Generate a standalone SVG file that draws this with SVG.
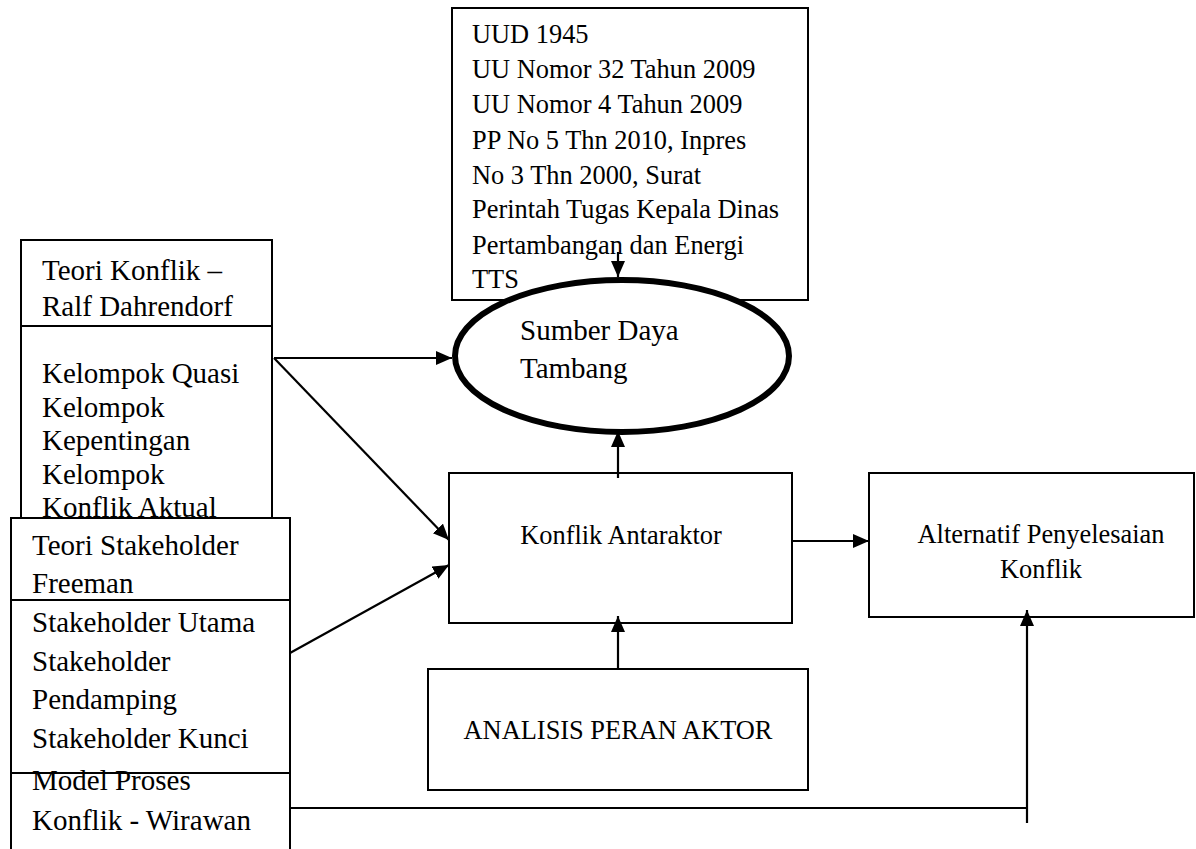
<svg xmlns="http://www.w3.org/2000/svg" width="1196" height="849" viewBox="0 0 1196 849">
<style>
text{font-family:"Liberation Serif","Times New Roman",serif;fill:#000}
.box{fill:#fff;stroke:#000;stroke-width:2}
.t26{font-size:26.4px}
.t29{font-size:29px}
.c{stroke:#000;stroke-width:2.2;fill:none}
</style>
<defs>
<marker id="ah" markerUnits="userSpaceOnUse" markerWidth="18" markerHeight="16" refX="16" refY="7" orient="auto">
<path d="M0,0 L16,7 L0,14 z" fill="#000"/>
</marker>
</defs>
<rect width="1196" height="849" fill="#fff"/>

<g id="dasar-hukum">
<rect class="box" x="452" y="8" width="356" height="292"/>
<text class="t26" x="472" y="43">UUD 1945</text>
<text class="t26" x="472" y="78">UU Nomor 32 Tahun 2009</text>
<text class="t26" x="472" y="113">UU Nomor 4 Tahun 2009</text>
<text class="t26" x="472" y="149">PP No 5 Thn 2010, Inpres</text>
<text class="t26" x="472" y="184">No 3 Thn 2000, Surat</text>
<text class="t26" x="472" y="218">Perintah Tugas Kepala Dinas</text>
<text class="t26" x="472" y="254">Pertambangan dan Energi</text>
<text class="t26" x="472" y="288">TTS</text>
</g>

<g id="sumber-daya">
<ellipse cx="622" cy="356" rx="167" ry="76" fill="#fff" stroke="#000" stroke-width="6"/>
<text class="t29" x="520" y="340">Sumber Daya</text>
<text class="t29" x="520" y="378">Tambang</text>
</g>

<g id="teori-konflik">
<rect class="box" x="21" y="240" width="251" height="290"/>
<line x1="21" y1="326" x2="272" y2="326" stroke="#000" stroke-width="2"/>
<text class="t29" x="42" y="280">Teori Konflik –</text>
<text class="t29" x="42" y="316">Ralf Dahrendorf</text>
<text class="t29" x="42" y="383">Kelompok Quasi</text>
<text class="t29" x="42" y="416.5">Kelompok</text>
<text class="t29" x="42" y="450">Kepentingan</text>
<text class="t29" x="42" y="483.5">Kelompok</text>
<text class="t29" x="42" y="517">Konflik Aktual</text>
</g>

<g id="teori-stakeholder">
<rect class="box" x="11" y="518" width="279" height="255"/>
<line x1="11" y1="600" x2="290" y2="600" stroke="#000" stroke-width="2"/>
<text class="t29" x="32" y="555">Teori Stakeholder</text>
<text class="t29" x="32" y="593">Freeman</text>
<text class="t29" x="32" y="632">Stakeholder Utama</text>
<text class="t29" x="32" y="671">Stakeholder</text>
<text class="t29" x="32" y="709">Pendamping</text>
<text class="t29" x="32" y="748">Stakeholder Kunci</text>
</g>

<g id="model-proses">
<rect class="box" x="11" y="773" width="279" height="90"/>
<text class="t29" x="32" y="790">Model Proses</text>
<text class="t29" x="32" y="830">Konflik - Wirawan</text>
</g>

<g id="konflik-antaraktor">
<rect class="box" x="449" y="473" width="343" height="150"/>
<text class="t26" x="621" y="544" text-anchor="middle">Konflik Antaraktor</text>
</g>

<g id="alternatif">
<rect class="box" x="869" y="473" width="325" height="144"/>
<text class="t26" x="1041" y="543" text-anchor="middle">Alternatif Penyelesaian</text>
<text class="t26" x="1041" y="578" text-anchor="middle">Konflik</text>
</g>

<g id="analisis">
<rect class="box" x="428" y="669" width="380" height="121"/>
<text class="t26" x="618" y="739" text-anchor="middle">ANALISIS PERAN AKTOR</text>
</g>

<g id="connectors">
<line class="c" x1="274" y1="358" x2="452" y2="358" marker-end="url(#ah)"/>
<line class="c" x1="274" y1="358" x2="449" y2="540" marker-end="url(#ah)"/>
<line class="c" x1="290" y1="653" x2="449" y2="565" marker-end="url(#ah)"/>
<line class="c" x1="618" y1="252" x2="618" y2="277" marker-end="url(#ah)"/>
<line class="c" x1="618" y1="478" x2="618" y2="431" marker-end="url(#ah)"/>
<line class="c" x1="618" y1="669" x2="618" y2="616" marker-end="url(#ah)"/>
<line class="c" x1="792" y1="541" x2="869" y2="541" marker-end="url(#ah)"/>
<polyline class="c" points="290,808 1027,808"/>
<line class="c" x1="1027" y1="823" x2="1027" y2="610" marker-end="url(#ah)"/>
</g>
</svg>
